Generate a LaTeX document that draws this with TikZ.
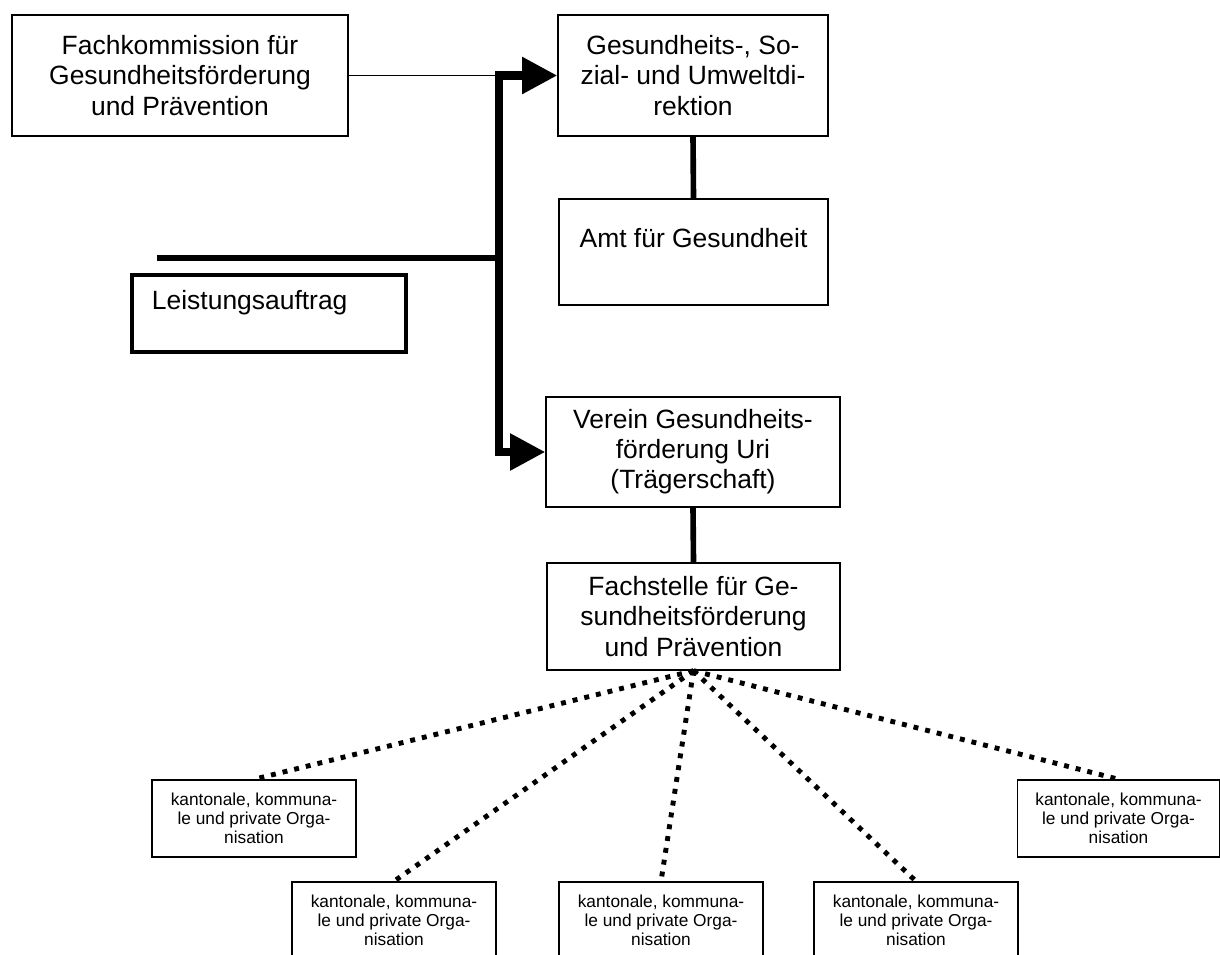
\documentclass[tikz,border=0pt]{standalone}
\usepackage{fontspec}
\setmainfont{Liberation Sans}
\usetikzlibrary{arrows.meta,positioning}

\begin{document}
\begin{tikzpicture}[x=0.025cm,y=-0.025cm,
    kasten/.style={draw,line width=1pt,inner sep=0pt,align=center,font=\fontsize{18.8}{21.4}\selectfont},
    orgkasten/.style={draw,line width=1pt,inner sep=0pt,align=center,minimum width=5.1cm,minimum height=1.925cm,font=\fontsize{12.3}{13.7}\selectfont},
    stamm/.style={line width=5.7pt,{Triangle[length=25pt,width=25pt]}-{Triangle[length=25pt,width=25pt]}},
    balken/.style={line width=4pt},
    punktlinie/.style={line width=3.5pt,dash pattern=on 3.5pt off 5pt}]
  \useasboundingbox (0,0) rectangle (1220,954);
  \clip (0,0) rectangle (1220,954);
  \node [kasten,minimum width=8.4cm,minimum height=3.025cm] (fk) at (180,75.5) {Fachkommission für\\Gesundheitsförderung\\und Prävention};
  \node [kasten,minimum width=6.75cm,minimum height=3.025cm] (gsu) at (693,75.5) {Gesundheits-, So-\\zial- und Umweltdi-\\rektion};
  \node [kasten,minimum width=6.725cm,minimum height=2.65cm,text height=13.5pt,text depth=19.2pt] (amt) at (693.5,252) {Amt für Gesundheit};
  \node [kasten,line width=3.2pt,align=left,text width=5.85cm,inner xsep=0.5cm,minimum height=1.925cm,text height=13.5pt,text depth=18.5pt] (la) at (269,313.5) {Leistungsauftrag};
  \node [kasten,minimum width=7.35cm,minimum height=2.75cm] (verein) at (693,452) {Verein Gesundheits-\\förderung Uri\\(Trägerschaft)};
  \node [kasten,minimum width=7.325cm,minimum height=2.675cm] (fst) at (693.5,616.5) {Fachstelle für Ge-\\sundheitsförderung\\und Prävention};
  \node [orgkasten] (org1) at (254,818.5) {kantonale, kommuna-\\le und private Orga-\\nisation};
  \node [orgkasten] (org2) at (394,920.5) {kantonale, kommuna-\\le und private Orga-\\nisation};
  \node [orgkasten] (org3) at (661,920.5) {kantonale, kommuna-\\le und private Orga-\\nisation};
  \node [orgkasten] (org4) at (916,920.5) {kantonale, kommuna-\\le und private Orga-\\nisation};
  \node [orgkasten,minimum width=5.05cm] (org5) at (1118.5,818.5) {kantonale, kommuna-\\le und private Orga-\\nisation};
  \coordinate (knick) at (498.5,452);
  \coordinate (lfrei) at (157,258);
  \draw [line width=0.8pt] (fk.east) -- (fk.east -| knick);
  \draw [stamm] (gsu.west) -| (knick) -- (verein.west);
  \draw [balken] (lfrei) -- (lfrei -| knick);
  \draw [balken] (gsu.south) -- (amt.north);
  \draw [balken] (verein.south) -- (fst.north);
  \foreach \ziel in {org1,org2,org3,org4,org5}
    \draw [punktlinie] (fst.south) -- (\ziel.north);
\end{tikzpicture}
\end{document}
